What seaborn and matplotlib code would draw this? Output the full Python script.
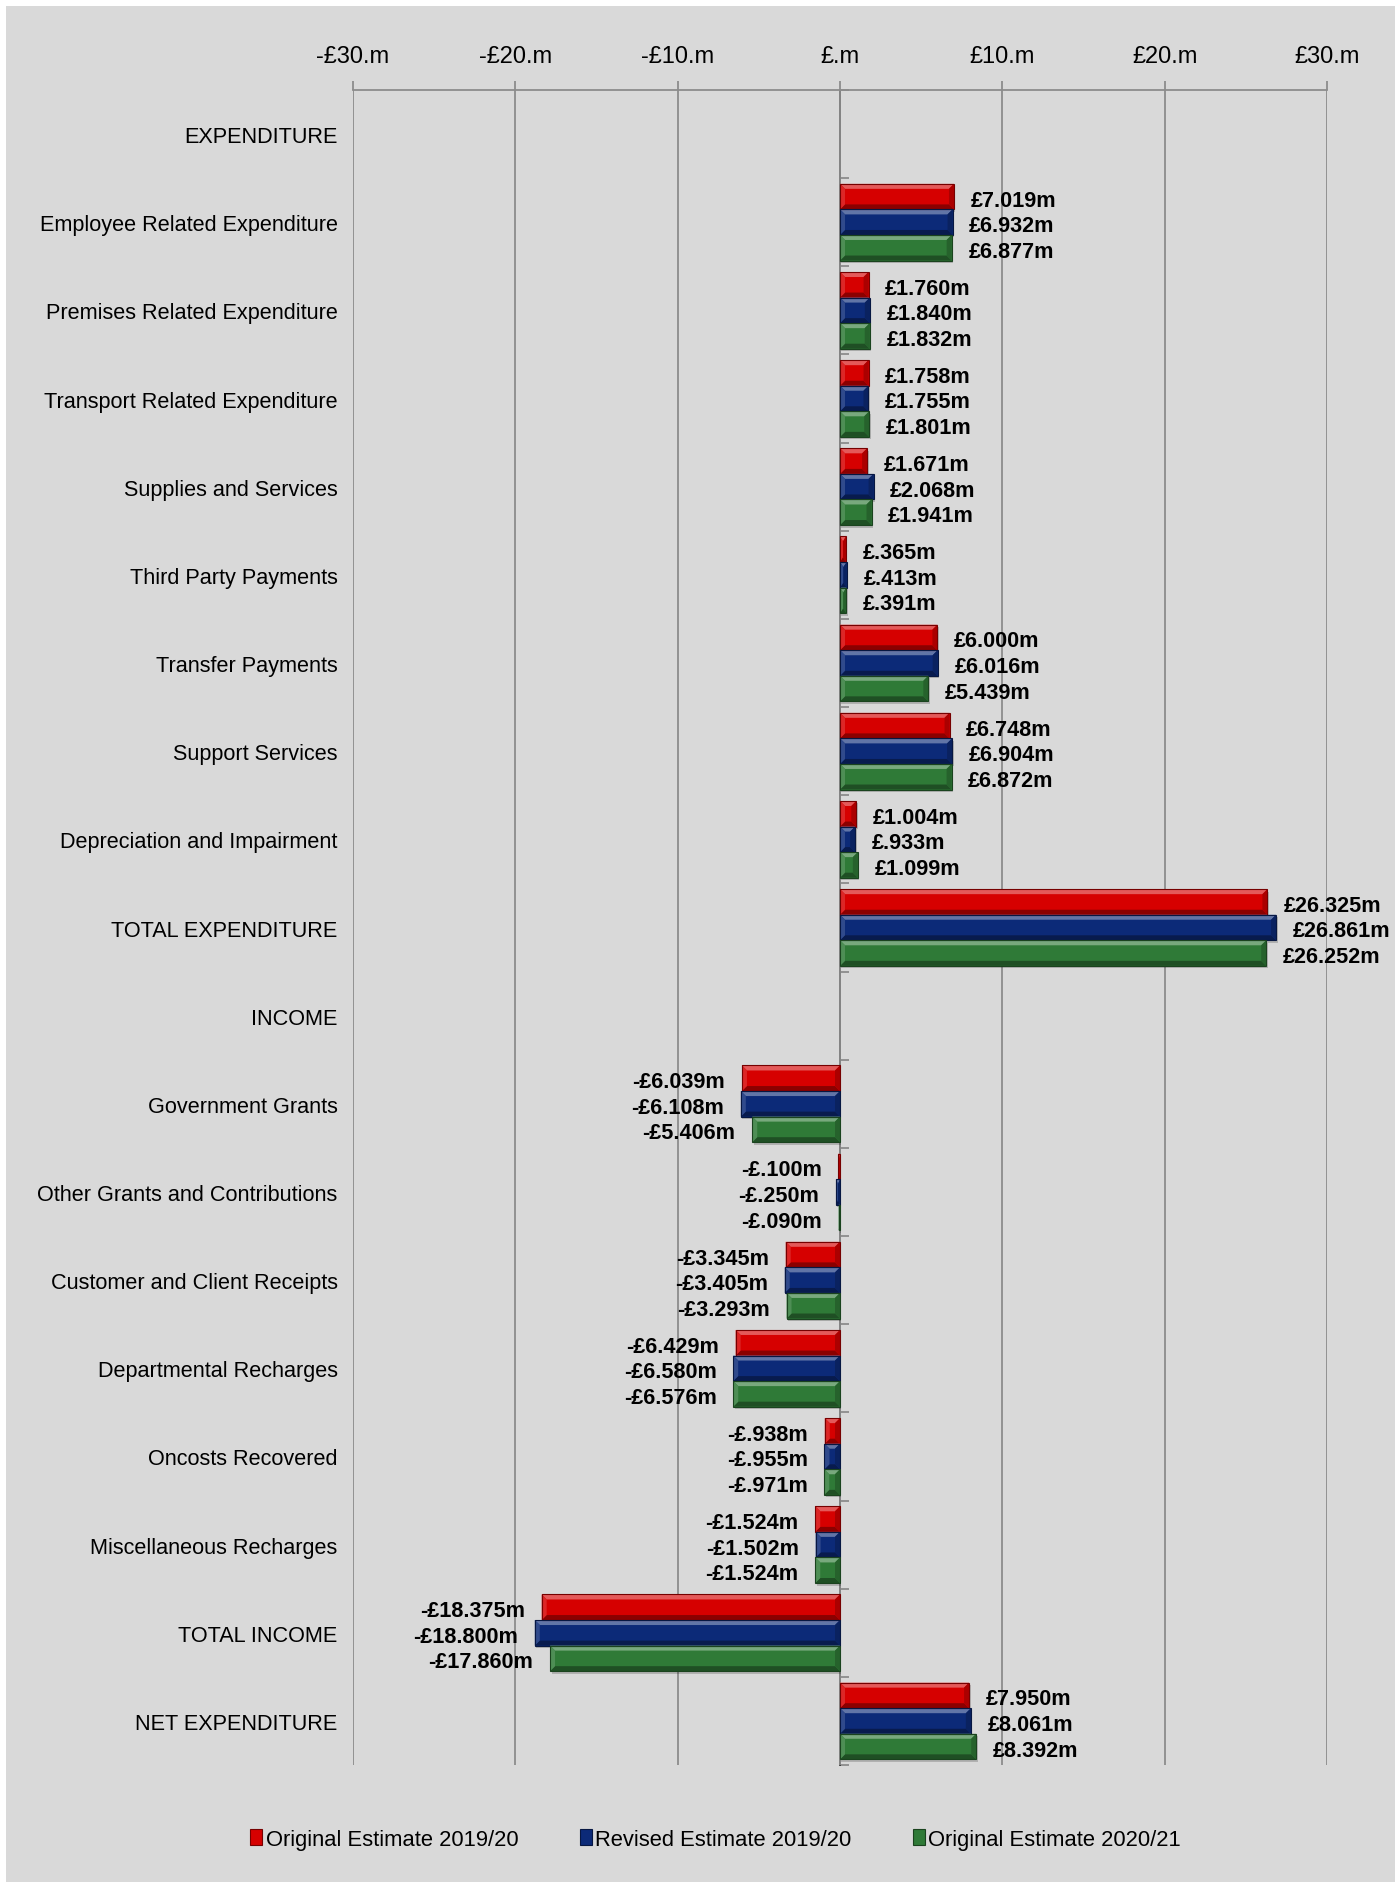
import numpy as np
import pandas as pd
import matplotlib
matplotlib.use("Agg")
import matplotlib.pyplot as plt
from matplotlib.patches import Polygon, Rectangle, Patch
from matplotlib.colors import to_rgb
import seaborn as sns

# ---- data (£ millions) ----
categories = [
    "EXPENDITURE",
    "Employee Related Expenditure",
    "Premises Related Expenditure",
    "Transport Related Expenditure",
    "Supplies and Services",
    "Third Party Payments",
    "Transfer Payments",
    "Support Services",
    "Depreciation and Impairment",
    "TOTAL EXPENDITURE",
    "INCOME",
    "Government Grants",
    "Other Grants and Contributions",
    "Customer and Client Receipts",
    "Departmental Recharges",
    "Oncosts Recovered",
    "Miscellaneous Recharges",
    "TOTAL INCOME",
    "NET EXPENDITURE",
]
series_names = ["Original Estimate 2019/20", "Revised Estimate 2019/20", "Original Estimate 2020/21"]

original_2019 = [np.nan, 7.019, 1.760, 1.758, 1.671, 0.365, 6.000, 6.748, 1.004, 26.325,
                 np.nan, -6.039, -0.100, -3.345, -6.429, -0.938, -1.524, -18.375, 7.950]
revised_2019 = [np.nan, 6.932, 1.840, 1.755, 2.068, 0.413, 6.016, 6.904, 0.933, 26.861,
                np.nan, -6.108, -0.250, -3.405, -6.580, -0.955, -1.502, -18.800, 8.061]
original_2020 = [np.nan, 6.877, 1.832, 1.801, 1.941, 0.391, 5.439, 6.872, 1.099, 26.252,
                 np.nan, -5.406, -0.090, -3.293, -6.576, -0.971, -1.524, -17.860, 8.392]

x_ticks = [-30, -20, -10, 0, 10, 20, 30]
x_tick_labels = ["-£30.m", "-£20.m", "-£10.m", "£.m", "£10.m", "£20.m", "£30.m"]

colors = ["#d60000", "#0c2a78", "#2f7a37"]

df = pd.DataFrame({
    "category": categories * 3,
    "series": np.repeat(series_names, len(categories)),
    "value": original_2019 + revised_2019 + original_2020,
})


def money(v):
    s = f"{abs(v):.3f}"
    if abs(v) < 1:
        s = s[1:]
    return ("-" if v < 0 else "") + "£" + s + "m"


sns.set_theme(style="white")
plt.rcParams["font.family"] = ["Liberation Sans Narrow", "Liberation Sans", "DejaVu Sans"]
plt.rcParams["text.color"] = "black"

BG = "#d9d9d9"
GRID = "#8c8c8c"
W, H = 1395, 1883
fig = plt.figure(figsize=(W / 100, H / 100), dpi=100, facecolor="white")
fig.patches.append(Rectangle((6 / W, 0), 1 - 6 / W, 1 - 7 / H, transform=fig.transFigure,
                             facecolor=BG, edgecolor="none", zorder=-10))

ax = fig.add_axes([0.2530, 0.0621, 0.6983, 0.8896])
ax.set_facecolor("none")

sns.barplot(data=df, y="category", x="value", hue="series", order=categories,
            hue_order=series_names, palette=colors, orient="h", width=0.87,
            errorbar=None, legend=False, ax=ax, saturation=1.0,
            edgecolor="none", linewidth=0, zorder=3)

ax.set_xlim(-30, 30)
ax.set_ylim(len(categories) - 0.5, -0.5)

# bevel shading on each bar
fig.canvas.draw()
inv = ax.transData.inverted()
p0 = inv.transform((0, 0))
p1 = inv.transform((5, 5))
bev_x = abs(p1[0] - p0[0])
bev_y = abs(p1[1] - p0[1])


def mix(c, t, amt):
    c = np.array(to_rgb(c))
    return tuple(c + (np.array(to_rgb(t)) - c) * amt)


bars = [p for p in ax.patches if isinstance(p, Rectangle)]
for p in bars:
    w = p.get_width()
    if not np.isfinite(w) or w == 0:
        continue
    base = p.get_facecolor()
    xl, xr = sorted([p.get_x(), p.get_x() + w])
    y0, y1 = sorted([p.get_y(), p.get_y() + p.get_height()])
    dx = min(bev_x, (xr - xl) / 2)
    dy = bev_y
    light = mix(base, "white", 0.35)
    dark = mix(base, "black", 0.35)
    midl = mix(base, "white", 0.15)
    midd = mix(base, "black", 0.2)
    # soft drop shadow
    ax.add_patch(Rectangle((xl + bev_x * 0.3, y0 + bev_y * 0.5), xr - xl, y1 - y0,
                           facecolor="#000000", alpha=0.18, edgecolor="none", zorder=2.9))
    polys = [
        ([(xl, y0), (xr, y0), (xr - dx, y0 + dy), (xl + dx, y0 + dy)], light),
        ([(xl, y1), (xr, y1), (xr - dx, y1 - dy), (xl + dx, y1 - dy)], dark),
        ([(xl, y0), (xl + dx, y0 + dy), (xl + dx, y1 - dy), (xl, y1)], midl),
        ([(xr, y0), (xr - dx, y0 + dy), (xr - dx, y1 - dy), (xr, y1)], midd),
    ]
    for pts, c in polys:
        ax.add_patch(Polygon(pts, closed=True, facecolor=c, edgecolor="none", zorder=3.1))
    ax.add_patch(Rectangle((xl, y0), xr - xl, y1 - y0, facecolor="none",
                           edgecolor=mix(base, "black", 0.45), linewidth=0.8, zorder=3.2))
    ax.annotate(money(w), xy=(xr if w > 0 else xl, (y0 + y1) / 2),
                xytext=(12 if w > 0 else -12, -2.5), textcoords="offset points",
                ha="left" if w > 0 else "right", va="center",
                fontsize=15.6, fontweight="bold", color="black", zorder=5)

# top value axis with vertical gridlines
ax.xaxis.tick_top()
ax.set_xticks(x_ticks)
ax.set_xticklabels(x_tick_labels, fontsize=17, color="black")
ax.tick_params(axis="x", which="major", length=6.5, width=1.3, color=GRID, pad=10, top=True)
ax.grid(axis="x", color=GRID, linewidth=1.3)
ax.set_axisbelow(True)

# category labels on the left, no marks
ax.set_yticks(range(len(categories)))
ax.set_yticklabels(categories, fontsize=15.6, color="black")
ax.tick_params(axis="y", length=0, pad=11)
ax.set_xlabel("")
ax.set_ylabel("")
for s in ["left", "right", "bottom"]:
    ax.spines[s].set_visible(False)
ax.spines["top"].set_color(GRID)
ax.spines["top"].set_linewidth(1.3)

# category axis crossing at zero, with ticks between categories
sec = ax.secondary_yaxis(0.5)
sec.set_yticks(np.arange(-0.5, len(categories), 1.0))
sec.set_yticklabels([])
sec.tick_params(axis="y", length=6.5, width=1.3, color=GRID, direction="out")
sec.spines["left"].set_color(GRID)
sec.spines["left"].set_linewidth(1.3)

handles = [Patch(facecolor=c, edgecolor=mix(c, "black", 0.45), linewidth=0.8) for c in colors]
fig.legend(handles, series_names, loc="center", bbox_to_anchor=(0.513, 0.0228),
           ncol=3, frameon=False, fontsize=15.8, handlelength=0.55, handleheight=0.75,
           handletextpad=0.15, columnspacing=2.8, labelcolor="black")

fig.savefig("out.png", dpi=100, facecolor=fig.get_facecolor())
